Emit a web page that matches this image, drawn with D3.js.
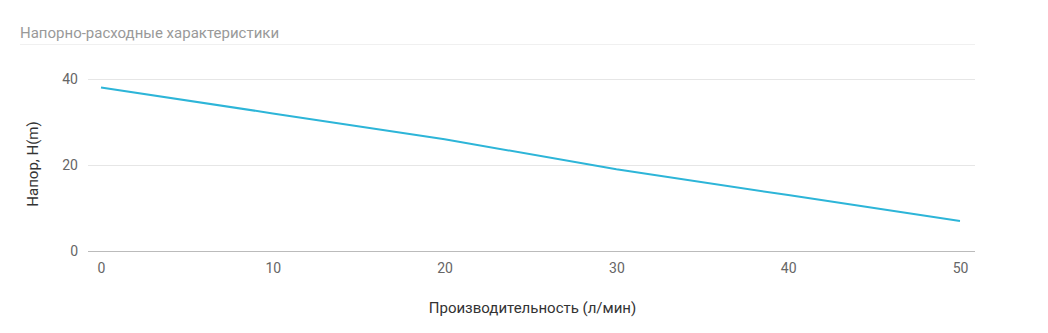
<!DOCTYPE html>
<html>
<head>
<meta charset="utf-8">
<script src="https://cdn.jsdelivr.net/npm/d3@7"></script>
<style>
    body { margin: 0; background: #fff; font-family: Roboto, sans-serif; }
    #chart { width: 1048px; height: 333px; }
    .tick text { fill: #666; font-size: 14px; font-family: Roboto, sans-serif; }
    .axisLabel { fill: #333; font-size: 15px; font-family: Roboto, sans-serif; }
</style>
</head>
<body>
<div id="chart"></div>
<script>
var flow = [0, 10, 20, 30, 40, 50];
var head = [38, 32, 26, 19, 13, 7];
var yTicks = [0, 20, 40];
var xTicks = [0, 10, 20, 30, 40, 50];

var data = flow.map(function(f, i) { return {flow: f, head: head[i]}; });

var width = 1048;
var height = 333;
var margin = {top: 79, left: 88, right: 73, bottom: 82};

var svg = d3.select("#chart")
    .append("svg")
    .attr("width", width)
    .attr("height", height);

// title and its faint rule
svg.append("text")
    .attr("x", 20)
    .attr("y", 38)
    .attr("fill", "#999")
    .style("font-size", "15px")
    .style("font-family", "Roboto, sans-serif")
    .text("Напорно-расходные характеристики");

svg.append("line")
    .attr("x1", 20).attr("x2", width - margin.right)
    .attr("y1", 44.5).attr("y2", 44.5)
    .attr("stroke", "#f0f0f0");

var xScale = d3.scaleLinear()
    .domain([0, 50])
    .range([101, 960]);

var yScale = d3.scaleLinear()
    .domain([0, 40])
    .range([height - margin.bottom, margin.top]);

// grid lines
svg.append("g")
    .selectAll("line")
    .data(yTicks.filter(function(d) { return d > 0; }))
    .enter()
    .append("line")
        .attr("x1", margin.left)
        .attr("x2", width - margin.right)
        .attr("y1", function(d) { return Math.round(yScale(d)) + 0.5; })
        .attr("y2", function(d) { return Math.round(yScale(d)) + 0.5; })
        .attr("stroke", "#e6e6e6");

var yAxis = svg.append("g")
    .attr("transform", `translate(${margin.left - 10},0)`)
    .call(d3.axisLeft(yScale).tickValues(yTicks).tickSize(0).tickPadding(0));
yAxis.select(".domain").remove();

var xAxis = svg.append("g")
    .attr("transform", `translate(0,${height - margin.bottom + 10})`)
    .call(d3.axisBottom(xScale).tickValues(xTicks).tickSize(0).tickPadding(2));
xAxis.select(".domain").remove();

// baseline
svg.append("line")
    .attr("x1", margin.left)
    .attr("x2", width - margin.right)
    .attr("y1", Math.round(yScale(0)) + 0.5)
    .attr("y2", Math.round(yScale(0)) + 0.5)
    .attr("stroke", "#bbb");

var line = d3.line()
    .x(function(d) { return xScale(d.flow); })
    .y(function(d) { return yScale(d.head); });

svg.append("path")
    .datum(data)
    .attr("d", line)
    .attr("fill", "none")
    .attr("stroke", "#2db5d8")
    .attr("stroke-width", 2);

svg.append("text")
    .attr("class", "axisLabel")
    .attr("text-anchor", "middle")
    .attr("x", (xScale(0) + xScale(50)) / 2 + 2)
    .attr("y", 313)
    .text("Производительность (л/мин)");

svg.append("text")
    .attr("class", "axisLabel")
    .attr("text-anchor", "middle")
    .attr("transform", "rotate(-90)")
    .attr("x", -yScale(20) + 1)
    .attr("y", 38)
    .text("Напор, H(m)");
</script>
</body>
</html>
